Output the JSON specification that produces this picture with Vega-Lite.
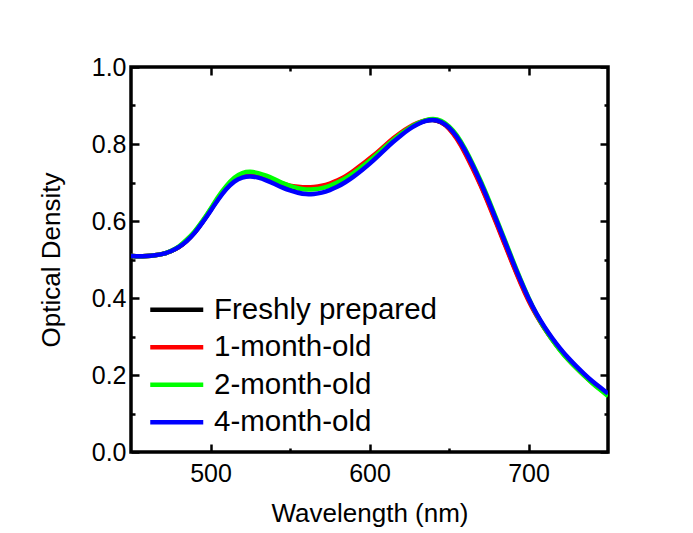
{
  "$schema": "https://vega.github.io/schema/vega-lite/v6.json",
  "width": 477,
  "height": 385,
  "autosize": {"type": "none"},
  "padding": {"left": 131, "top": 67, "right": 85, "bottom": 81},
  "background": "white",
  "data": {"values": [
    {"w":450,"Freshly prepared":0.509,"1-month-old":0.509,"2-month-old":0.509,"4-month-old":0.509},
    {"w":455,"Freshly prepared":0.508,"1-month-old":0.508,"2-month-old":0.508,"4-month-old":0.508},
    {"w":460,"Freshly prepared":0.509,"1-month-old":0.509,"2-month-old":0.509,"4-month-old":0.509},
    {"w":465,"Freshly prepared":0.511,"1-month-old":0.511,"2-month-old":0.511,"4-month-old":0.511},
    {"w":470,"Freshly prepared":0.514,"1-month-old":0.514,"2-month-old":0.514,"4-month-old":0.514},
    {"w":475,"Freshly prepared":0.521,"1-month-old":0.521,"2-month-old":0.521,"4-month-old":0.521},
    {"w":480,"Freshly prepared":0.531,"1-month-old":0.531,"2-month-old":0.532,"4-month-old":0.531},
    {"w":485,"Freshly prepared":0.548,"1-month-old":0.548,"2-month-old":0.551,"4-month-old":0.547},
    {"w":490,"Freshly prepared":0.569,"1-month-old":0.569,"2-month-old":0.572,"4-month-old":0.568},
    {"w":495,"Freshly prepared":0.597,"1-month-old":0.598,"2-month-old":0.600,"4-month-old":0.596},
    {"w":500,"Freshly prepared":0.628,"1-month-old":0.629,"2-month-old":0.631,"4-month-old":0.626},
    {"w":505,"Freshly prepared":0.660,"1-month-old":0.662,"2-month-old":0.665,"4-month-old":0.657},
    {"w":510,"Freshly prepared":0.687,"1-month-old":0.689,"2-month-old":0.692,"4-month-old":0.684},
    {"w":515,"Freshly prepared":0.707,"1-month-old":0.709,"2-month-old":0.714,"4-month-old":0.704},
    {"w":520,"Freshly prepared":0.717,"1-month-old":0.719,"2-month-old":0.726,"4-month-old":0.714},
    {"w":525,"Freshly prepared":0.720,"1-month-old":0.722,"2-month-old":0.729,"4-month-old":0.717},
    {"w":530,"Freshly prepared":0.717,"1-month-old":0.719,"2-month-old":0.725,"4-month-old":0.713},
    {"w":535,"Freshly prepared":0.710,"1-month-old":0.712,"2-month-old":0.718,"4-month-old":0.706},
    {"w":540,"Freshly prepared":0.703,"1-month-old":0.706,"2-month-old":0.709,"4-month-old":0.697},
    {"w":545,"Freshly prepared":0.694,"1-month-old":0.697,"2-month-old":0.699,"4-month-old":0.687},
    {"w":550,"Freshly prepared":0.688,"1-month-old":0.691,"2-month-old":0.691,"4-month-old":0.679},
    {"w":555,"Freshly prepared":0.685,"1-month-old":0.689,"2-month-old":0.685,"4-month-old":0.673},
    {"w":560,"Freshly prepared":0.683,"1-month-old":0.687,"2-month-old":0.681,"4-month-old":0.669},
    {"w":565,"Freshly prepared":0.684,"1-month-old":0.688,"2-month-old":0.682,"4-month-old":0.670},
    {"w":570,"Freshly prepared":0.687,"1-month-old":0.691,"2-month-old":0.685,"4-month-old":0.673},
    {"w":575,"Freshly prepared":0.693,"1-month-old":0.697,"2-month-old":0.691,"4-month-old":0.680},
    {"w":580,"Freshly prepared":0.701,"1-month-old":0.705,"2-month-old":0.700,"4-month-old":0.689},
    {"w":585,"Freshly prepared":0.712,"1-month-old":0.716,"2-month-old":0.711,"4-month-old":0.701},
    {"w":590,"Freshly prepared":0.726,"1-month-old":0.730,"2-month-old":0.724,"4-month-old":0.715},
    {"w":595,"Freshly prepared":0.742,"1-month-old":0.746,"2-month-old":0.740,"4-month-old":0.731},
    {"w":600,"Freshly prepared":0.758,"1-month-old":0.762,"2-month-old":0.756,"4-month-old":0.748},
    {"w":605,"Freshly prepared":0.775,"1-month-old":0.778,"2-month-old":0.774,"4-month-old":0.767},
    {"w":610,"Freshly prepared":0.794,"1-month-old":0.797,"2-month-old":0.793,"4-month-old":0.787},
    {"w":615,"Freshly prepared":0.812,"1-month-old":0.815,"2-month-old":0.811,"4-month-old":0.806},
    {"w":620,"Freshly prepared":0.828,"1-month-old":0.831,"2-month-old":0.827,"4-month-old":0.823},
    {"w":625,"Freshly prepared":0.842,"1-month-old":0.844,"2-month-old":0.842,"4-month-old":0.839},
    {"w":630,"Freshly prepared":0.853,"1-month-old":0.855,"2-month-old":0.854,"4-month-old":0.851},
    {"w":635,"Freshly prepared":0.861,"1-month-old":0.862,"2-month-old":0.862,"4-month-old":0.860},
    {"w":640,"Freshly prepared":0.864,"1-month-old":0.864,"2-month-old":0.866,"4-month-old":0.864},
    {"w":645,"Freshly prepared":0.858,"1-month-old":0.858,"2-month-old":0.862,"4-month-old":0.859},
    {"w":650,"Freshly prepared":0.843,"1-month-old":0.842,"2-month-old":0.847,"4-month-old":0.844},
    {"w":655,"Freshly prepared":0.817,"1-month-old":0.814,"2-month-old":0.824,"4-month-old":0.820},
    {"w":660,"Freshly prepared":0.781,"1-month-old":0.778,"2-month-old":0.789,"4-month-old":0.785},
    {"w":665,"Freshly prepared":0.739,"1-month-old":0.736,"2-month-old":0.748,"4-month-old":0.744},
    {"w":670,"Freshly prepared":0.695,"1-month-old":0.692,"2-month-old":0.704,"4-month-old":0.700},
    {"w":675,"Freshly prepared":0.646,"1-month-old":0.643,"2-month-old":0.655,"4-month-old":0.651},
    {"w":680,"Freshly prepared":0.595,"1-month-old":0.592,"2-month-old":0.604,"4-month-old":0.600},
    {"w":685,"Freshly prepared":0.543,"1-month-old":0.540,"2-month-old":0.552,"4-month-old":0.548},
    {"w":690,"Freshly prepared":0.491,"1-month-old":0.488,"2-month-old":0.499,"4-month-old":0.495},
    {"w":695,"Freshly prepared":0.441,"1-month-old":0.438,"2-month-old":0.448,"4-month-old":0.445},
    {"w":700,"Freshly prepared":0.395,"1-month-old":0.392,"2-month-old":0.400,"4-month-old":0.398},
    {"w":705,"Freshly prepared":0.356,"1-month-old":0.354,"2-month-old":0.357,"4-month-old":0.358},
    {"w":710,"Freshly prepared":0.322,"1-month-old":0.321,"2-month-old":0.321,"4-month-old":0.325},
    {"w":715,"Freshly prepared":0.292,"1-month-old":0.291,"2-month-old":0.291,"4-month-old":0.295},
    {"w":720,"Freshly prepared":0.265,"1-month-old":0.264,"2-month-old":0.263,"4-month-old":0.268},
    {"w":725,"Freshly prepared":0.241,"1-month-old":0.240,"2-month-old":0.239,"4-month-old":0.244},
    {"w":730,"Freshly prepared":0.220,"1-month-old":0.219,"2-month-old":0.218,"4-month-old":0.223},
    {"w":735,"Freshly prepared":0.200,"1-month-old":0.199,"2-month-old":0.198,"4-month-old":0.203},
    {"w":740,"Freshly prepared":0.181,"1-month-old":0.180,"2-month-old":0.179,"4-month-old":0.184},
    {"w":745,"Freshly prepared":0.165,"1-month-old":0.164,"2-month-old":0.162,"4-month-old":0.168},
    {"w":750,"Freshly prepared":0.149,"1-month-old":0.148,"2-month-old":0.145,"4-month-old":0.152}
  ]},
  "transform": [
    {"fold": ["Freshly prepared", "1-month-old", "2-month-old", "4-month-old"], "as": ["series", "od"]}
  ],
  "layer": [
    {
      "mark": {"type": "line", "strokeWidth": 4.5, "interpolate": "basis", "clip": true},
      "encoding": {
        "x": {"field": "w", "type": "quantitative",
          "scale": {"domain": [450, 750], "nice": false, "zero": false},
          "axis": {"orient": "bottom", "title": "Wavelength (nm)", "values": [500, 550, 600, 650, 700],
            "labelExpr": "datum.value % 100 == 0 ? datum.label : ''",
            "tickSize": {"condition": {"test": "datum.value % 100 == 0", "value": -8}, "value": -4},
            "domain": false, "grid": false, "labelPadding": 17, "titlePadding": 14}},
        "y": {"field": "od", "type": "quantitative",
          "scale": {"domain": [0, 1], "nice": false},
          "axis": {"orient": "left", "title": "Optical Density", "values": [0, 0.1, 0.2, 0.3, 0.4, 0.5, 0.6, 0.7, 0.8, 0.9, 1.0],
            "format": ".1f",
            "labelExpr": "round(datum.value * 10) % 2 == 0 ? datum.label : ''",
            "tickSize": {"condition": {"test": "round(datum.value * 10) % 2 == 0", "value": -8}, "value": -4},
            "domain": false, "grid": false, "labelPadding": 13, "titlePadding": 27}},
        "color": {"field": "series", "type": "nominal",
          "sort": ["Freshly prepared", "1-month-old", "2-month-old", "4-month-old"],
          "scale": {"domain": ["Freshly prepared", "1-month-old", "2-month-old", "4-month-old"], "range": ["#000000", "#ff0000", "#00ff00", "#0000ff"]},
          "legend": {"orient": "none", "legendX": 31, "legendY": 228, "title": null,
            "symbolType": "M-2.65,0H2.65", "symbolSize": 400, "symbolStrokeWidth": 4.5,
            "labelFontSize": 29.5, "labelFont": "Liberation Sans", "labelColor": "black",
            "labelOffset": 22.5, "rowPadding": 6.5, "padding": 0, "labelLimit": 0}}
      }
    },
    {
      "mark": {"type": "point", "opacity": 0},
      "encoding": {
        "x": {"field": "w", "type": "quantitative",
          "axis": {"orient": "top", "title": null, "values": [500, 550, 600, 650, 700], "labels": false,
            "tickSize": {"condition": {"test": "datum.value % 100 == 0", "value": -8}, "value": -4},
            "domain": false, "grid": false}},
        "y": {"field": "od", "type": "quantitative",
          "axis": {"orient": "right", "title": null, "values": [0, 0.1, 0.2, 0.3, 0.4, 0.5, 0.6, 0.7, 0.8, 0.9, 1.0], "labels": false,
            "tickSize": {"condition": {"test": "round(datum.value * 10) % 2 == 0", "value": -8}, "value": -4},
            "domain": false, "grid": false}}
      }
    }
  ],
  "resolve": {"axis": {"x": "independent", "y": "independent"}},
  "config": {
    "view": {"stroke": "black", "strokeWidth": 3.5},
    "axis": {"labelFont": "Liberation Sans", "titleFont": "Liberation Sans", "labelFontSize": 25, "titleFontSize": 26,
      "titleFontWeight": "normal", "labelColor": "black", "titleColor": "black", "tickColor": "black", "tickWidth": 2.5}
  }
}
